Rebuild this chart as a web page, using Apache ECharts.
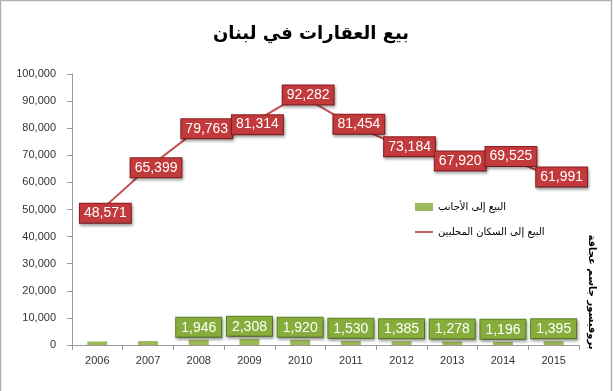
<!DOCTYPE html>
<html><head><meta charset="utf-8">
<script src="https://cdn.jsdelivr.net/npm/echarts@6/dist/echarts.min.js"></script>
<style>html,body{margin:0;padding:0;background:#fff}#c{width:613px;height:391px}</style>
</head><body><div id="c"></div>
<script>
var years = ['2006','2007','2008','2009','2010','2011','2012','2013','2014','2015'];
var localSales = [48571,65399,79763,81314,92282,81454,73184,67920,69525,61991];
var foreignSales = [1300,1450,1946,2308,1920,1530,1385,1278,1196,1395];
var foreignLabelShown = [false,false,true,true,true,true,true,true,true,true];
var titleText = 'بيع العقارات في لبنان';
var foreignName = 'البيع إلى الأجانب';
var localName = 'البيع إلى السكان المحليين';
var authorText = 'بروفيسور جاسم عجاقة';

var chart = echarts.init(document.getElementById('c'), null, {renderer:'canvas'});
var barData = foreignSales.map(function(v,i){ return foreignLabelShown[i] ? v : {value:v, label:{show:false}}; });
chart.setOption({
  animation:false,
  backgroundColor:'#fff',
  title:{text:titleText, left:306, top:20, textAlign:'center',
    textStyle:{fontFamily:'DejaVu Sans', fontSize:18, fontWeight:'bold', color:'#000'}},
  grid:{left:72, right:34, top:74, bottom:46},
  legend:{orient:'vertical', left:410, top:197, itemGap:15, itemWidth:18, itemHeight:8,
    textStyle:{fontFamily:'DejaVu Sans', fontSize:10, color:'#000'},
    data:[{name:foreignName, icon:'rect'},{name:localName, icon:'path://M0,9 L20,9 L20,11 L0,11 Z'}]},
  xAxis:{type:'category', data:years, boundaryGap:true,
    axisLine:{lineStyle:{color:'#9a9a9a', width:1}},
    axisTick:{show:true, length:5, inside:false, lineStyle:{color:'#9a9a9a'}},
    axisLabel:{margin:10, fontFamily:'Liberation Sans', fontSize:11, color:'#333'}},
  yAxis:{type:'value', min:0, max:100000, interval:10000,
    axisLine:{show:true, lineStyle:{color:'#9a9a9a'}},
    axisTick:{show:true, length:5, lineStyle:{color:'#9a9a9a'}},
    splitLine:{show:false},
    axisLabel:{margin:16, fontFamily:'Liberation Sans', fontSize:11, color:'#333'}},
  graphic:[
    {type:'rect', shape:{x:0.5,y:0.5,width:611,height:400}, style:{fill:'none', stroke:'#b0b0b0', lineWidth:1.5}, silent:true},
    {type:'text', x:592, y:292, rotation:-Math.PI/2,
      style:{text:authorText, fontFamily:'DejaVu Sans', fontSize:10, fontWeight:'bold', fill:'#000', align:'center', verticalAlign:'middle'}}
  ],
  series:[
    {name:foreignName, type:'bar', data:barData, barWidth:20, z:2,
      itemStyle:{color:'#9bbb59'},
      label:{show:true, position:'top', distance:3, color:'#fff', fontFamily:'Liberation Sans', fontSize:14,
        formatter:function(p){return echarts.format.addCommas(p.value);},
        backgroundColor:'#86ad3c', borderColor:'#5f8325', borderWidth:1, padding:[3,5,2,5],
        shadowColor:'rgba(0,0,0,0.35)', shadowBlur:3, shadowOffsetX:1, shadowOffsetY:2}},
    {name:localName, type:'line', data:localSales, z:5,
      symbol:'circle', symbolSize:1, showSymbol:true,
      lineStyle:{color:'#c0504d', width:2}, itemStyle:{color:'#c0504d'},
      label:{show:true, position:'inside', offset:[8,0], color:'#fff', fontFamily:'Liberation Sans', fontSize:14,
        formatter:function(p){return echarts.format.addCommas(p.value);},
        backgroundColor:'#c23a3c', borderColor:'#8e1f21', borderWidth:1, padding:[3,4,2,4],
        shadowColor:'rgba(0,0,0,0.35)', shadowBlur:3, shadowOffsetX:1, shadowOffsetY:2}}
  ]
});
</script></body></html>
